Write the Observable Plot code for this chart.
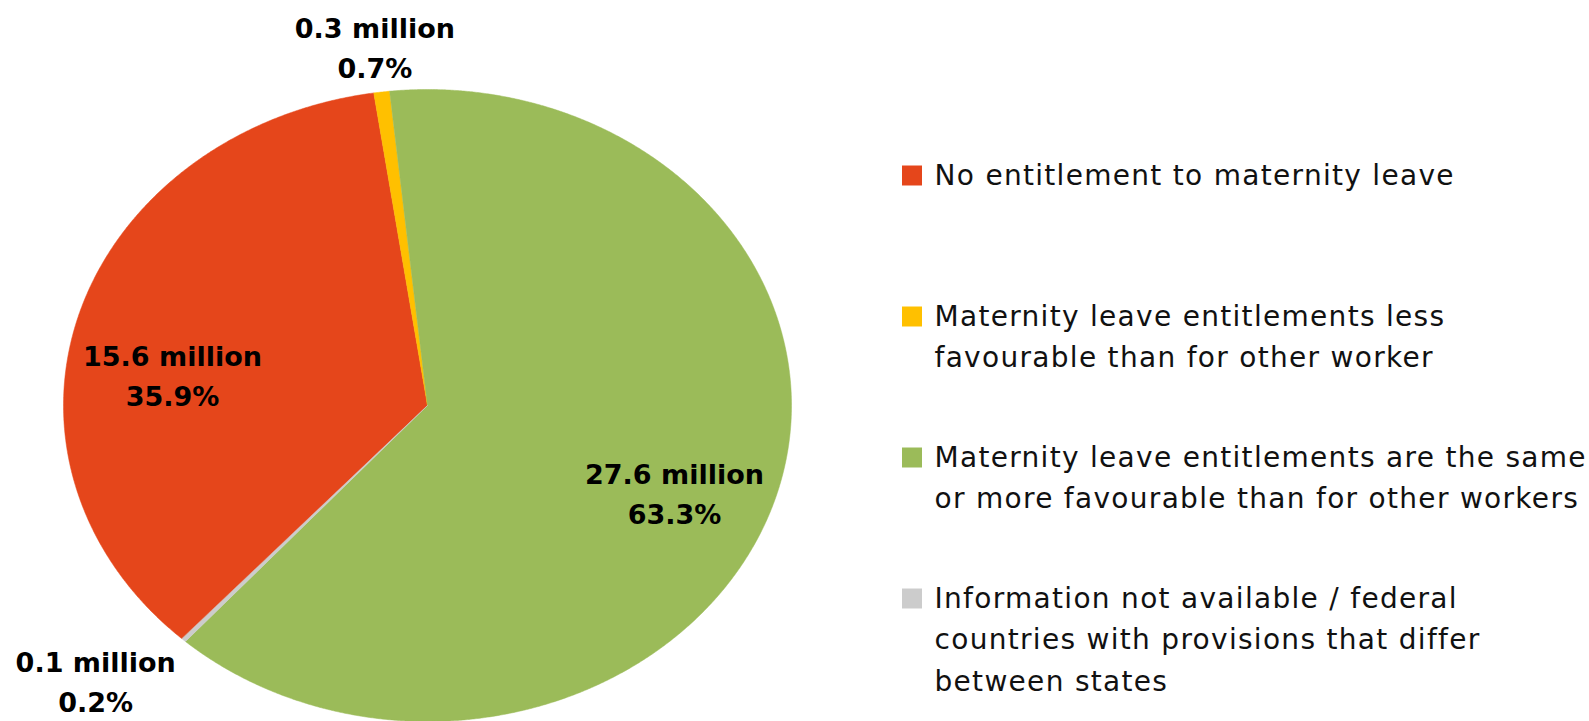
<!DOCTYPE html>
<html>
<head>
<meta charset="utf-8">
<script src="https://cdn.jsdelivr.net/npm/d3@7"></script>
<script src="https://cdn.jsdelivr.net/npm/@observablehq/plot@0.6"></script>
<style>
  html, body { margin: 0; padding: 0; background: #ffffff; }
  #chart { display: flex; flex-direction: row; width: 1589px; height: 721px; overflow: hidden; }
</style>
</head>
<body>
<div id="chart"></div>
<script>
// ---- Data ----
const categories = [
  "No entitlement to maternity leave",
  "Maternity leave entitlements less favourable than for other worker",
  "Maternity leave entitlements are the same or more favourable than for other workers",
  "Information not available / federal countries with provisions that differ between states"
];
const legendLabels = [
  "No entitlement to maternity leave",
  "Maternity leave entitlements less\nfavourable than for other worker",
  "Maternity leave entitlements are the same\nor more favourable than for other workers",
  "Information not available / federal\ncountries with provisions that differ\nbetween states"
];
const millions = [15.6, 0.3, 27.6, 0.1];
const percents = [35.9, 0.7, 63.3, 0.2];
const colors = ["#E5461B", "#FFC000", "#9BBB59", "#CCCCCC"];

// ---- Layout (not data) ----
const startDeg = 222.4;                 // first slice start angle, clockwise from 12 o'clock
const labelRadius = [0.708, 1.148, 0.731, 1.258];
const labelShiftDeg = [-8.7, 0, 4, 4.4];

const rows = categories.map((c, i) => ({cat: c, mil: millions[i], pct: percents[i]}));
const rad = Math.PI / 180;
const arcs = d3.pie().sort(null).value(d => d.pct)
  .startAngle(startDeg * rad).endAngle(startDeg * rad + 2 * Math.PI)(rows);

const piePoints = arcs.flatMap(a => {
  const n = Math.max(3, Math.ceil((a.endAngle - a.startAngle) / (0.25 * rad)));
  const out = [{cat: a.data.cat, x: 0, y: 0}];
  for (let i = 0; i <= n; i++) {
    const t = a.startAngle + (a.endAngle - a.startAngle) * i / n;
    out.push({cat: a.data.cat, x: Math.sin(t), y: Math.cos(t)});
  }
  return out;
});

const labelRows = arcs.map((a, i) => {
  const mid = (a.startAngle + a.endAngle) / 2 + labelShiftDeg[i] * rad;
  return {
    x: labelRadius[i] * Math.sin(mid),
    y: labelRadius[i] * Math.cos(mid),
    text: `${a.data.mil} million\n${a.data.pct}%`
  };
});

const color = {domain: categories, range: colors};

const pie = Plot.plot({
  width: 880,
  height: 721,
  margin: 0,
  x: {domain: [-1, 1], range: [63, 791], axis: null},
  y: {domain: [-1, 1], range: [721, 89], axis: null},
  color,
  style: {background: "#ffffff", overflow: "visible"},
  marks: [
    Plot.line(piePoints, {x: "x", y: "y", z: "cat", fill: "cat", stroke: "cat", strokeWidth: 0.5, curve: "linear-closed"}),
    Plot.text(labelRows, {
      x: "x", y: "y", text: "text",
      fontFamily: "DejaVu Sans", fontWeight: "bold", fontSize: 27,
      lineHeight: 1.48, fill: "#000000", textAnchor: "middle", lineAnchor: "middle"
    })
  ]
});

const legendRows = categories.map((c, i) => ({cat: c, label: legendLabels[i]}));
const legend = Plot.plot({
  width: 709,
  height: 721,
  margin: 0,
  y: {type: "point", domain: categories, range: [154, 578], padding: 0, axis: null},
  x: {axis: null},
  color,
  style: {background: "#ffffff", fontFamily: "DejaVu Sans", letterSpacing: "1.3px", overflow: "visible"},
  marks: [
    Plot.dot(legendRows, {y: "cat", fill: "cat", symbol: "square", r: 11.28, frameAnchor: "left", dx: 31.5, dy: 20}),
    Plot.text(legendRows, {
      y: "cat", text: "label", frameAnchor: "left", dx: 54,
      textAnchor: "start", lineAnchor: "top", fontSize: 28, lineHeight: 1.48,
      fontFamily: "DejaVu Sans", fill: "#111111"
    })
  ]
});

const chart = document.getElementById("chart");
chart.appendChild(pie);
chart.appendChild(legend);
</script>
</body>
</html>
